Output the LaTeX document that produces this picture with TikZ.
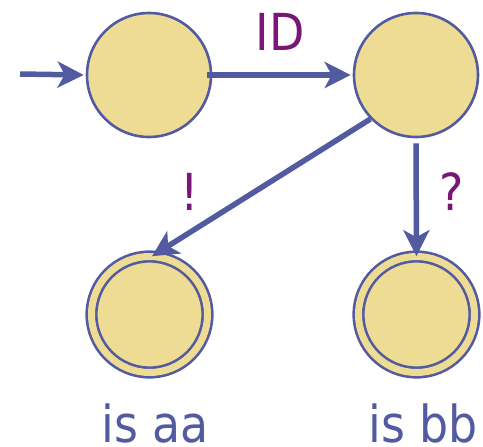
\documentclass[tikz,border=0pt]{standalone}
\usepackage{fontspec}
\setmainfont{DejaVu Sans Condensed}
\usetikzlibrary{arrows.meta}
\definecolor{stfill}{RGB}{238,220,148}
\definecolor{stline}{RGB}{82,90,160}
\definecolor{lblcol}{RGB}{122,22,120}
\tikzset{
  state/.style={circle, draw=stline, fill=stfill, line width=2.6pt, minimum size=124pt, inner sep=0pt},
  final/.style={state, double=stfill, double distance=7pt, line width=2.6pt, minimum size=116pt},
  trans/.style={draw=stline, line width=5.5pt, -{Stealth[length=26pt, width=26pt, inset=7pt]}},
  lbl/.style={text=lblcol, font=\fontsize{51}{51}\selectfont, anchor=base, inner sep=0pt, text depth=0pt},
  caption/.style={text=stline, font=\fontsize{51}{51}\selectfont, anchor=base, inner sep=0pt, text depth=0pt}
}
\begin{document}
\begin{tikzpicture}[x=1pt, y=-1pt]
  \useasboundingbox (0,0) rectangle (483,447);
  \node[state] (q0) at (149,75) {};
  \node[state] (q1) at (416,75) {};
  \node[final] (qa) at (149.5,314.5) {};
  \node[final] (qb) at (416.5,314.5) {};
  \coordinate (init) at (20,74);
  \draw[trans] (init) -- ([xshift=-2pt]q0.west);
  \draw[trans] ([xshift=-5pt]q0.east) -- ([xshift=-2pt]q1.west);
  \draw[trans] (q1.224) -- ([shift={(2.5pt,-1pt)}]qa.north);
  \draw[trans] ([yshift=-5pt]q1.south) -- ([yshift=-1pt]qb.north);
  \node[lbl] (lid) at (280,50) {ID};
  \node[lbl] (lex) at (190,210) {!};
  \node[lbl] (lq) at (452,210) {?};
  \node[caption] (ca) at (155,442) {is aa};
  \node[caption] (cb) at (423,442) {is bb};
\end{tikzpicture}
\end{document}
